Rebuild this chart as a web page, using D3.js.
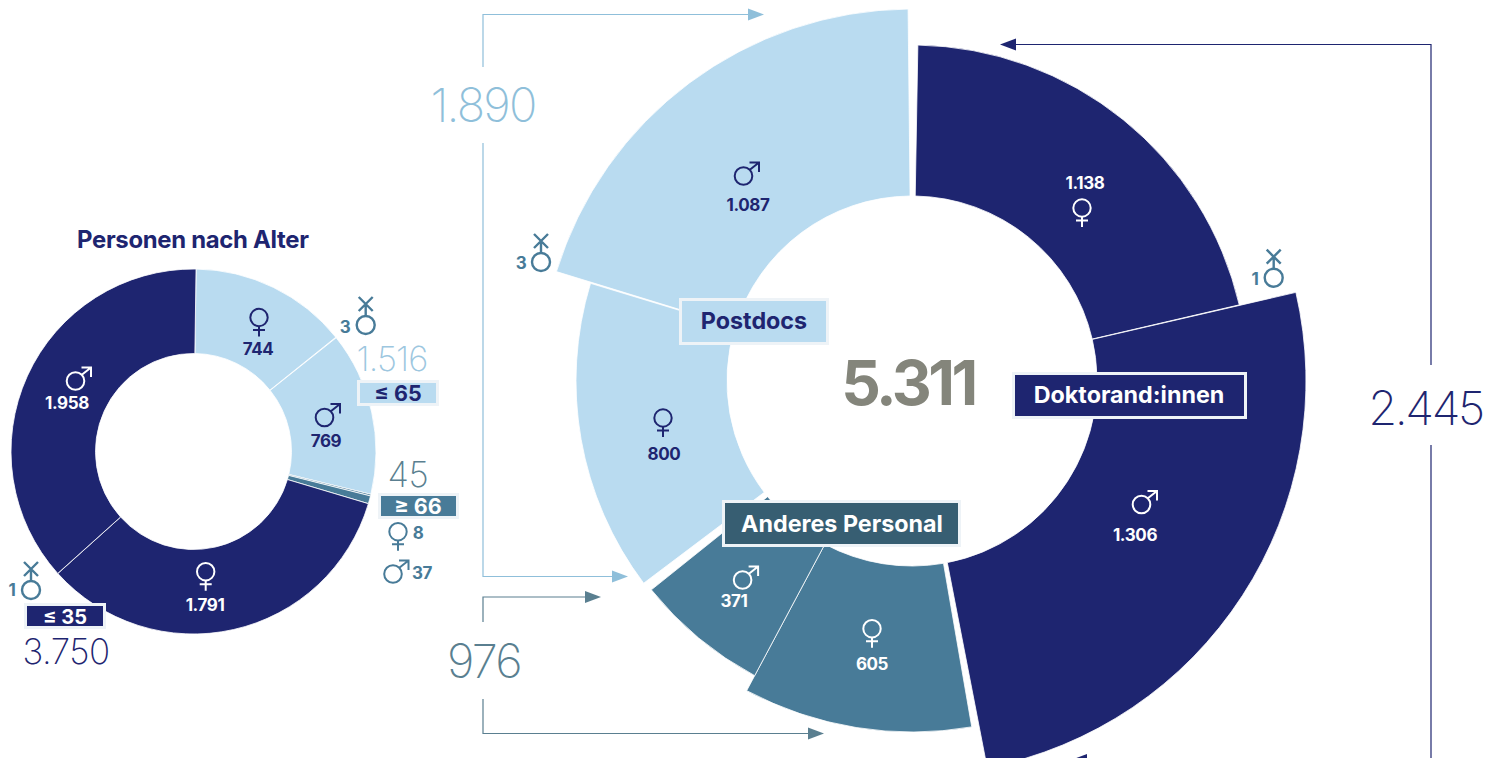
<!DOCTYPE html>
<html lang="de">
<head>
<meta charset="UTF-8">
<title>Personal nach Gruppe und Alter</title>
<script src="https://unpkg.com/d3@7.8.0/dist/d3.min.js"></script>
<style>
    body { margin: 0; background: #fff; overflow: hidden; }
    text { font-family: Inter, "Liberation Sans", sans-serif; }
    .num { font-weight: 700; font-size: 17px; text-anchor: middle; letter-spacing: -0.4px; }
    .big { font-weight: 200; text-anchor: middle; letter-spacing: -2px; }
    .tag { font-weight: 700; text-anchor: middle; }
</style>
</head>
<body>
<script>
    // ---- values ----
    const staffGroups = ['Doktorand:innen', 'Anderes Personal', 'Postdocs'];
    const staffFemale = [1138, 605, 800];
    const staffMale = [1306, 371, 1087];
    const staffDiverse = [1, 0, 3];
    const staffTotals = [2445, 976, 1890];
    const staffTotal = 5311;

    const ageGroups = ['≤ 65', '≥ 66', '≤ 35'];
    const ageFemale = [744, 8, 1791];
    const ageMale = [769, 37, 1958];
    const ageDiverse = [3, 0, 1];
    const ageTotals = [1516, 45, 3750];

    const navy = '#1e2570', light = '#b9dbf0', teal = '#487b98', darkTeal = '#375e72';
    const lightLine = '#8fbfda', tealLine = '#5a7f90', grey = '#84857b', edge = '#eef3f7';
    const groupColor = [navy, teal, light];
    const ageColor = [light, teal, navy];

    // the printed donut is not quite true to its numbers and each group sits apart,
    // so every group gets its own value -> degrees scale (stops: start, f, f+x, end)
    const staffAngleStops = [[1, 76.9, 77, 169], [170.2, 208.1, 208.1, 231.3], [233, 286.9, 287.1, 359.4]];
    const staffOuter = [[336, 394], [351, 334], [336, 372]];

    const fmt = d3.format(',');
    const de = v => fmt(v).replace(/,/g, '.');
    const width = 1496, height = 758;

    const svg = d3.select('body').append('svg').attr('width', width).attr('height', height);

    // ---- main donut ----
    const staffG = svg.append('g').attr('transform', 'translate(912,381)');
    const staffSlices = staffGroups.flatMap((name, i) => {
        const total = staffTotals[i], f = staffFemale[i], x = staffDiverse[i];
        const angle = d3.scaleLinear().domain([0, f, f + x, total]).range(staffAngleStops[i]);
        const rad = v => angle(v) * Math.PI / 180;
        return [
            { startAngle: rad(0), endAngle: rad(f), outer: staffOuter[i][0], color: groupColor[i] },
            { startAngle: rad(f + x), endAngle: rad(total), outer: staffOuter[i][1], color: groupColor[i] }
        ];
    });
    const staffArc = d3.arc().innerRadius(185).outerRadius(d => d.outer);
    staffG.selectAll('path').data(staffSlices).join('path')
        .attr('d', staffArc)
        .attr('fill', d => d.color)
        .attr('stroke', '#fff')
        .attr('stroke-width', 0.8);

    // ---- age donut ----
    const ageValues = ageGroups.flatMap((name, i) => [
        { value: ageFemale[i], color: ageColor[i] },
        { value: ageDiverse[i], color: ageColor[i], hidden: true },
        { value: ageMale[i], color: ageColor[i] }
    ]);
    const ageStart = 0.8 * Math.PI / 180;
    const agePie = d3.pie().sort(null).value(d => d.value).startAngle(ageStart).endAngle(ageStart + 2 * Math.PI);
    const ageArc = d3.arc().innerRadius(98).outerRadius(182.5);
    svg.append('g').attr('transform', 'translate(193.5,451.5)')
        .selectAll('path').data(agePie(ageValues).filter(d => !d.data.hidden)).join('path')
        .attr('d', ageArc)
        .attr('fill', d => d.data.color)
        .attr('stroke', '#fff')
        .attr('stroke-width', 0.8);

    // ---- helpers ----
    function num(x, y, text, color, size) {
        const t = svg.append('text').attr('class', 'num').attr('x', x).attr('y', y).attr('fill', color).text(text);
        if (size) t.style('font-size', size + 'px');
        return t;
    }
    function bigNum(x, y, text, color, size, spacing) {
        const t = svg.append('text').attr('class', 'big').attr('x', x).attr('y', y)
            .attr('fill', color).style('font-size', size + 'px').text(text);
        if (spacing !== undefined) t.style('letter-spacing', spacing + 'px');
        return t;
    }
    function tag(cx, x0, y0, w, h, text, fill, color, size, borderCol, by) {
        svg.append('rect').attr('x', x0).attr('y', y0).attr('width', w).attr('height', h)
            .attr('fill', fill).attr('stroke', borderCol).attr('stroke-width', 3);
        svg.append('text').attr('class', 'tag').attr('x', cx).attr('y', by)
            .attr('fill', color).style('font-size', size + 'px').text(text);
    }
    function sym(type, cx, cy, color) {
        const g = svg.append('g').attr('transform', `translate(${cx},${cy})`)
            .attr('fill', 'none').attr('stroke', color).attr('stroke-width', 2);
        if (type === 'f') {
            g.append('circle').attr('r', 8.7);
            g.append('path').attr('d', 'M0,9V19M-6,12.5H6');
        } else if (type === 'm') {
            g.append('circle').attr('r', 8.8);
            g.append('path').attr('d', 'M6,-6L15.5,-13.5M6,-13.5H15.5V-4');
        } else {
            g.attr('stroke-width', 2.4);
            g.append('circle').attr('r', 9);
            g.append('path').attr('d', 'M0,-9V-21M-7,-28L7,-14M7,-28L-7,-14');
        }
    }
    function leader(d, color, width) {
        svg.append('path').attr('d', d).attr('fill', 'none').attr('stroke', color).attr('stroke-width', width || 1.2);
    }
    function arrow(tipX, y, dir, color) {
        svg.append('path').attr('d', `M${tipX},${y}L${tipX - dir * 16},${y - 6}V${y + 6}Z`).attr('fill', color);
    }

    // ---- age donut labels ----
    svg.append('text').attr('x', 77).attr('y', 248).attr('fill', navy)
        .style('font-size', '23.9px').style('font-weight', 700).style('letter-spacing', '-0.3px')
        .text('Personen nach Alter');

    sym('f', 259, 317.5, navy); num(258, 355, de(ageFemale[0]), navy);
    sym('m', 324.5, 417.5, navy); num(326, 447, de(ageMale[0]), navy);
    sym('m', 75.5, 381, '#fff'); num(67, 409, de(ageMale[2]), '#fff');
    sym('f', 205.7, 571.7, '#fff'); num(205, 611, de(ageFemale[2]), '#fff');
    sym('f', 398, 531.7, teal); num(418, 539, de(ageFemale[1]), teal);
    sym('m', 393, 574, teal); num(422, 579, de(ageMale[1]), teal);
    sym('x', 365.7, 325, teal); num(345, 333, de(ageDiverse[0]), teal);
    sym('x', 31, 590, teal); num(12, 596, de(ageDiverse[2]), teal);

    tag(398, 358.5, 381.5, 79, 23, ageGroups[0], light, navy, 21.5, edge, 400.5);
    tag(418, 379.5, 494.5, 78, 23, ageGroups[1], teal, '#fff', 21.5, edge, 513.5);
    tag(65, 25.5, 604.5, 79, 23, ageGroups[2], navy, '#fff', 20, edge, 624);

    bigNum(392, 371, de(ageTotals[0]), '#9dc7df', 34.5, -0.9);
    bigNum(408, 487, de(ageTotals[1]), tealLine, 35, -0.4);
    bigNum(66, 663.5, de(ageTotals[2]), navy, 35, -0.5);

    // ---- main donut labels ----
    num(1085, 189, de(staffFemale[0]), '#fff'); sym('f', 1082, 208, '#fff');
    sym('m', 1141.5, 504.5, '#fff'); num(1135, 541, de(staffMale[0]), '#fff');
    sym('f', 872, 628.7, '#fff'); num(872, 670, de(staffFemale[1]), '#fff');
    sym('m', 742.6, 580, '#fff'); num(734, 607, de(staffMale[1]), '#fff');
    sym('f', 663, 418, navy); num(664, 460, de(staffFemale[2]), navy);
    sym('m', 743.5, 176, navy); num(748, 211, de(staffMale[2]), navy);
    sym('x', 541, 262, teal); num(521, 269, de(staffDiverse[2]), teal);
    sym('x', 1273.7, 277.7, teal); num(1255, 285, de(staffDiverse[0]), teal);

    tag(754, 680.5, 299.5, 147, 44, staffGroups[2], light, navy, 23.3, edge, 329);
    tag(1129, 1013.5, 373.5, 232, 44, staffGroups[0], navy, '#fff', 23.3, edge, 403);
    tag(842, 723.5, 501.5, 236, 44, staffGroups[1], darkTeal, '#fff', 23.3, edge, 532);

    svg.append('text').attr('x', 908).attr('y', 405).attr('text-anchor', 'middle').attr('fill', grey)
        .style('font-size', '62px').style('font-weight', 700).style('letter-spacing', '-3.5px')
        .text(de(staffTotal));

    // ---- leaders with group totals ----
    leader('M483,67V14.5H748', lightLine); arrow(764, 14.5, 1, lightLine);
    leader('M483,143V576.5H612', lightLine); arrow(628, 576.5, 1, lightLine);
    bigNum(483, 122, de(staffTotals[2]), lightLine, 47, -1.8);

    leader('M483,622V597H585', tealLine); arrow(601, 597, 1, tealLine);
    leader('M483,699V733.5H808', tealLine); arrow(824, 733.5, 1, tealLine);
    bigNum(484, 678, de(staffTotals[1]), tealLine, 47, -1.8);

    leader('M1431,365V44.5H1016', navy); arrow(1000, 44.5, -1, navy);
    leader('M1431,445V770H1087', navy); arrow(1071, 760, -1, navy);
    bigNum(1425.5, 425, de(staffTotals[0]), navy, 47, -2.4);
</script>
</body>
</html>
